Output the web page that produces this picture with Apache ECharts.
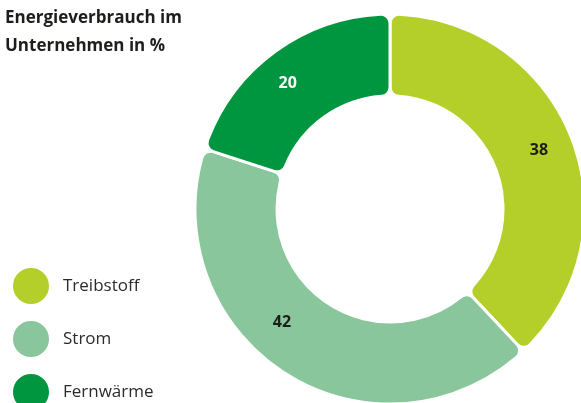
<!DOCTYPE html>
<html>
<head>
<meta charset="utf-8">
<script src="https://cdn.jsdelivr.net/npm/echarts@6/dist/echarts.min.js"></script>
<style>
  html, body { margin: 0; padding: 0; background: #fff; }
  #chart { width: 581px; height: 403px; }
</style>
</head>
<body>
<div id="chart"></div>
<script>
// --- data ------------------------------------------------------------------
const categories = ["Treibstoff", "Strom", "Fernwärme"];
const values = [38, 42, 20];
const colors = ["#B5CF2A", "#8AC69C", "#009640"];
const labelColors = ["#1d1d1b", "#1d1d1b", "#ffffff"];
// small nudges so the value labels sit where the original put them
const labelNudge = [[3, -1], [-24, -19], [-10, 1]];

const FONT = "'Open Sans', 'Noto Sans', sans-serif";

const chart = echarts.init(document.getElementById("chart"), null, { renderer: "canvas" });

chart.setOption({
  animation: false,
  title: {
    text: "Energieverbrauch im\nUnternehmen in %",
    left: 5,
    top: 4,
    padding: 0,
    textStyle: { fontFamily: FONT, fontSize: 17, fontWeight: "bold", color: "#1d1d1b", lineHeight: 28 },
  },
  legend: {
    orient: "vertical",
    left: 11,
    top: 266,
    height: 200,
    padding: 0,
    icon: "circle",
    itemWidth: 38,
    itemHeight: 38,
    itemGap: 13,
    textStyle: { fontFamily: FONT, fontSize: 17, color: "#2b2b2b", padding: [0, 0, 0, 8] },
    data: categories,
  },
  series: [
    {
      type: "pie",
      center: [390, 209],
      radius: [113, 195],
      startAngle: 90,
      clockwise: true,
      itemStyle: { borderColor: "#fff", borderWidth: 3, borderRadius: 9 },
      label: {
        position: "inside",
        fontFamily: FONT,
        fontSize: 16,
        fontWeight: "bold",
        formatter: "{c}",
      },
      labelLine: { show: false },
      labelLayout: (p) => ({ dx: labelNudge[p.dataIndex][0], dy: labelNudge[p.dataIndex][1] }),
      emphasis: { disabled: true },
      data: categories.map((name, i) => ({
        name,
        value: values[i],
        itemStyle: { color: colors[i] },
        label: { color: labelColors[i] },
      })),
    },
  ],
});
</script>
</body>
</html>
